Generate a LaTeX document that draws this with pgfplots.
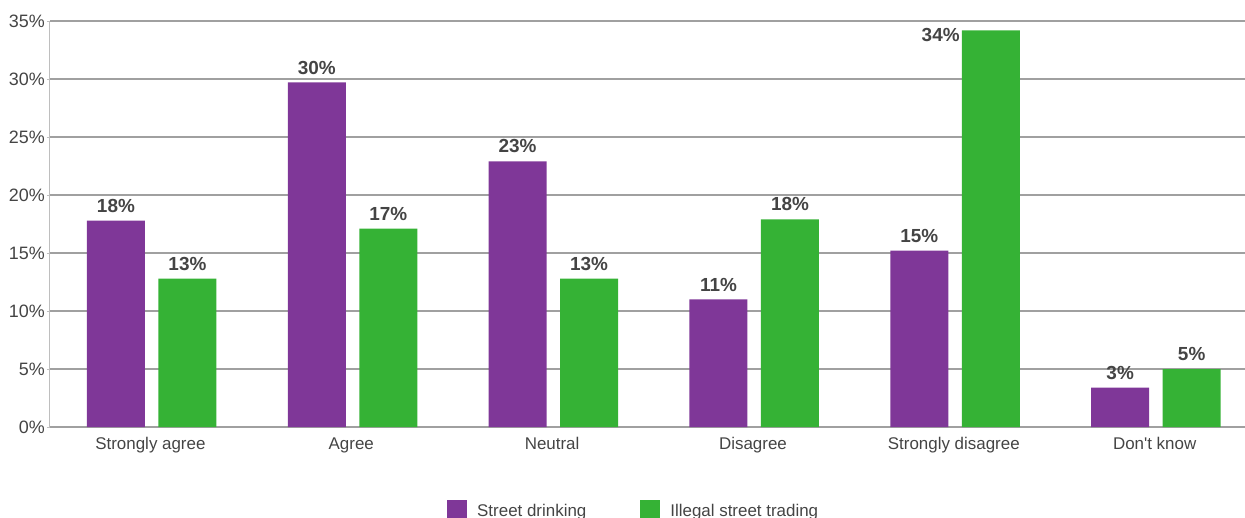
\documentclass[border=0pt]{standalone}
\usepackage{pgfplots}
\pgfplotsset{compat=1.18}
\usepackage{fontspec}
\setmainfont{Liberation Sans}
\newfontfamily\plainfont{Liberation Sans}
\definecolor{sdpurple}{RGB}{127,55,152}
\definecolor{stgreen}{RGB}{53,178,53}
\definecolor{txt}{RGB}{68,68,68}
\definecolor{gridc}{RGB}{160,160,160}
\definecolor{yaxc}{RGB}{190,190,190}
\begin{document}
\begin{tikzpicture}
\useasboundingbox (-50bp,-91bp) rectangle (1195bp,427bp);
\begin{axis}[
  at={(0,0)}, anchor=south west,
  scale only axis, width=1195bp, height=406bp,
  xmin=-0.5, xmax=5.45, ymin=0, ymax=35,
  axis lines*=left,
  ybar, bar width=58bp,
  xtick={0,...,5},
  xticklabels={Strongly agree, Agree, Neutral, Disagree, Strongly disagree, {\plainfont Don't know}},
  ytick={0,5,...,35},
  yticklabel={\pgfmathprintnumber{\tick}\%},
  /pgf/number format/assume math mode=true,
  ymajorgrids, grid style={draw=gridc, line width=1.2bp},
  xticklabel style={font=\fontsize{17}{20}\selectfont, text=txt, inner sep=0pt, anchor=base, yshift=-19bp},
  yticklabel style={font=\fontsize{18}{21}\selectfont, text=txt, inner sep=0pt, xshift=-2bp},
  xtick style={draw=none},
  ytick style={draw=yaxc, line width=1bp},
  major tick length=3bp, tick align=outside,
  x axis line style={draw=gridc, line width=1.6bp},
  y axis line style={draw=yaxc, line width=1bp},
  nodes near coords={\pgfmathprintnumber[fixed,precision=0]{\pgfplotspointmeta}\%},
  nodes near coords style={font=\bfseries\fontsize{19}{22}\selectfont, text=txt, inner sep=0pt, anchor=south, yshift=8bp},
  legend columns=2,
  legend style={at={(axis description cs:0.3322,-0.2055)}, anchor=west, draw=none, fill=none,
    inner sep=0pt, column sep=0pt, nodes={inner sep=0pt, font=\fontsize{17}{20}\selectfont, text=txt}},
  legend image code/.code={\fill[#1] (0bp,-9bp) rectangle (20bp,11bp);},
  /tikz/every odd column/.append style={column sep=10bp},
  /tikz/every even column/.append style={column sep=54bp},
]
\addplot[fill=sdpurple, draw=none, bar shift=-34.5bp] coordinates {
  (0,17.8) (1,29.7) (2,22.9) (3,11.0) (4,15.2) (5,3.4)};
\addlegendentry{Street drinking}
\addplot[fill=stgreen, draw=none, bar shift=37bp,
  visualization depends on={value \coordindex \as \myidx},
  every node near coord/.append style={/utils/exec={%
      \ifnum\myidx=4 \def\myanch{north east}\def\mxs{-31bp}\def\mys{-6bp}%
      \else \def\myanch{south}\def\mxs{0bp}\def\mys{0bp}\fi},
    anchor=\myanch, xshift=\mxs, yshift=\mys}] coordinates {
  (0,12.8) (1,17.1) (2,12.8) (3,17.9) (4,34.2) (5,5.0)};
\addlegendentry{Illegal street trading}
\end{axis}
\end{tikzpicture}
\end{document}
